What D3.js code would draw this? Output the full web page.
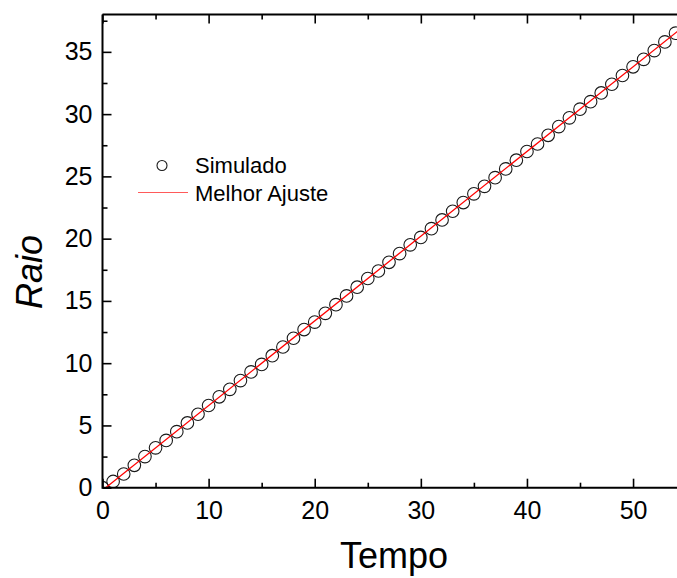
<!DOCTYPE html>
<html lang="en">
<head>
	<meta charset="utf-8">
	<title>Raio x Tempo</title>
	<script src="https://d3js.org/d3.v7.min.js"></script>
	<style type="text/css">
		body { margin: 0; background: #fff; }
		text { font-family: "Liberation Sans", Arial, sans-serif; }
	</style>
</head>
<body>
	<div id="chart"></div>

<script type="text/javascript">
	var w = 677;
	var h = 578;

	// simulated radius per time step
	var tempo = [ 0, 1, 2, 3, 4, 5, 6, 7, 8, 9,
		10, 11, 12, 13, 14, 15, 16, 17, 18, 19,
		20, 21, 22, 23, 24, 25, 26, 27, 28, 29,
		30, 31, 32, 33, 34, 35, 36, 37, 38, 39,
		40, 41, 42, 43, 44, 45, 46, 47, 48, 49,
		50, 51, 52, 53, 54 ];
	var raio = [ 0, 0.5, 1.1, 1.8, 2.5, 3.2, 3.8, 4.5, 5.2, 5.9,
		6.6, 7.3, 7.9, 8.6, 9.3, 9.9, 10.6, 11.3, 12.0, 12.7,
		13.3, 14.0, 14.7, 15.4, 16.1, 16.8, 17.4, 18.1, 18.8, 19.5,
		20.1, 20.8, 21.5, 22.2, 22.9, 23.6, 24.2, 24.9, 25.6, 26.3,
		27.0, 27.6, 28.3, 29.0, 29.7, 30.4, 31.0, 31.7, 32.4, 33.1,
		33.8, 34.4, 35.1, 35.8, 36.5 ];

	// best fit line endpoints
	var ajusteT = [ 0.3, 55 ];
	var ajusteR = [ 0, 37.2 ];

	var xMajor = [ 0, 10, 20, 30, 40, 50 ];
	var xMinor = [ 5, 15, 25, 35, 45 ];
	var yMajor = [ 0, 5, 10, 15, 20, 25, 30, 35 ];
	var yMinor = [ 2.5, 7.5, 12.5, 17.5, 22.5, 27.5, 32.5, 37.5 ];

	var pL = 102.5, pR = 675.5, pT = 14.5, pB = 487.7;

	var x = d3.scaleLinear().domain([0, 54]).range([pL, pR]);
	var y = d3.scaleLinear().domain([0, 38]).range([pB, pT]);

	var svg = d3.select("#chart")
		.append("svg")
		.attr("width", w)
		.attr("height", h);

	svg.append("clipPath")
		.attr("id", "plotclip")
		.append("rect")
		.attr("x", pL)
		.attr("y", pT)
		.attr("width", pR - pL + 2)
		.attr("height", pB - pT);

	var plot = svg.append("g").attr("clip-path", "url(#plotclip)");

	// data circles
	plot.selectAll("circle")
		.data(tempo)
		.enter()
		.append("circle")
		.attr("cx", function(d) { return x(d); })
		.attr("cy", function(d, i) { return y(raio[i]); })
		.attr("r", 6.3)
		.attr("fill", "none")
		.attr("stroke", "#1a1a1a")
		.attr("stroke-width", 1.1);

	// fit line
	var line = d3.line()
		.x(function(d) { return x(d); })
		.y(function(d, i) { return y(ajusteR[i]); });

	plot.append("path")
		.datum(ajusteT)
		.attr("d", line)
		.attr("fill", "none")
		.attr("stroke", "#ff0000")
		.attr("stroke-width", 1.3);

	// axes
	function styleAxis(g) {
		g.selectAll(".domain").remove();
		g.selectAll("line").attr("stroke", "#000").attr("stroke-width", 1.6);
		g.selectAll("text").attr("fill", "#000").attr("font-size", "25px")
			.attr("font-family", "Liberation Sans, Arial, sans-serif");
	}

	svg.append("g")
		.attr("transform", "translate(0," + pB + ")")
		.call(d3.axisBottom(x).tickValues(xMajor).tickSize(-9).tickPadding(14)
			.tickFormat(d3.format("d")))
		.call(styleAxis);
	svg.append("g")
		.attr("transform", "translate(0," + pB + ")")
		.call(d3.axisBottom(x).tickValues(xMinor).tickSize(-5).tickFormat(""))
		.call(styleAxis);

	svg.append("g")
		.attr("transform", "translate(0," + pT + ")")
		.call(d3.axisTop(x).tickValues(xMajor).tickSize(-9).tickFormat(""))
		.call(styleAxis);
	svg.append("g")
		.attr("transform", "translate(0," + pT + ")")
		.call(d3.axisTop(x).tickValues(xMinor).tickSize(-5).tickFormat(""))
		.call(styleAxis);

	svg.append("g")
		.attr("transform", "translate(" + pL + ",0)")
		.call(d3.axisLeft(y).tickValues(yMajor).tickSize(-9).tickPadding(10)
			.tickFormat(d3.format("d")))
		.call(styleAxis);
	svg.append("g")
		.attr("transform", "translate(" + pL + ",0)")
		.call(d3.axisLeft(y).tickValues(yMinor).tickSize(-5).tickFormat(""))
		.call(styleAxis);

	// frame lines
	svg.append("path")
		.attr("d", "M" + pL + "," + pT + "V" + pB + "H" + w)
		.attr("fill", "none")
		.attr("stroke", "#000")
		.attr("stroke-width", 2);
	svg.append("path")
		.attr("d", "M" + pL + "," + pT + "H" + w)
		.attr("fill", "none")
		.attr("stroke", "#000")
		.attr("stroke-width", 2);

	// axis titles
	svg.append("text")
		.attr("x", 394)
		.attr("y", 568)
		.attr("text-anchor", "middle")
		.attr("font-size", "36px")
		.attr("fill", "#000")
		.text("Tempo");

	svg.append("text")
		.attr("transform", "translate(42,272) rotate(-90)")
		.attr("text-anchor", "middle")
		.attr("font-size", "36px")
		.attr("font-style", "italic")
		.attr("fill", "#000")
		.text("Raio");

	// legend
	var legend = svg.append("g");
	legend.append("circle")
		.attr("cx", 162)
		.attr("cy", 165.5)
		.attr("r", 5)
		.attr("fill", "none")
		.attr("stroke", "#1a1a1a")
		.attr("stroke-width", 1.1);
	legend.append("text")
		.attr("x", 195)
		.attr("y", 173)
		.attr("font-size", "22px")
		.attr("fill", "#000")
		.text("Simulado");
	legend.append("line")
		.attr("x1", 138)
		.attr("x2", 188)
		.attr("y1", 192.5)
		.attr("y2", 192.5)
		.attr("stroke", "#ff5a5a")
		.attr("stroke-width", 1.2);
	legend.append("text")
		.attr("x", 195)
		.attr("y", 201)
		.attr("font-size", "22px")
		.attr("fill", "#000")
		.text("Melhor Ajuste");
</script>
</body>
</html>
